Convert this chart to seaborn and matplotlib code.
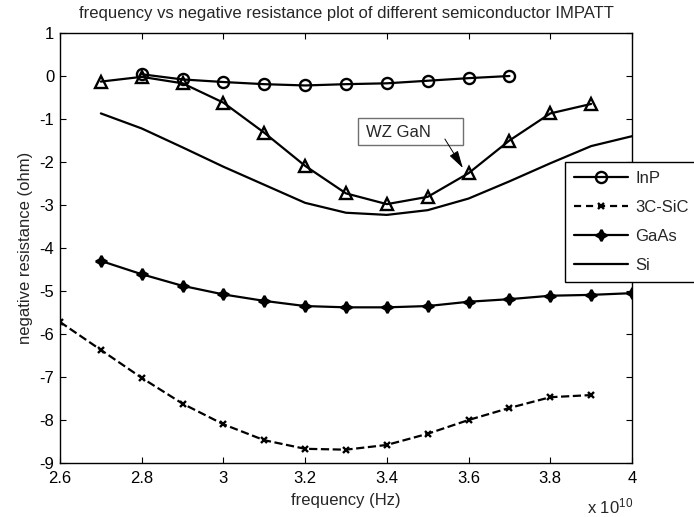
import matplotlib
matplotlib.use("Agg")
import matplotlib.pyplot as plt
from matplotlib.lines import Line2D
from matplotlib.patches import Rectangle
import seaborn as sns
import pandas as pd

# Frequencies in units of 1e10 Hz
freq_inp = [2.8, 2.9, 3.0, 3.1, 3.2, 3.3, 3.4, 3.5, 3.6, 3.7]
res_inp = [0.04, -0.08, -0.14, -0.19, -0.22, -0.19, -0.17, -0.11, -0.05, 0.0]

freq_sic = [2.6, 2.7, 2.8, 2.9, 3.0, 3.1, 3.2, 3.3, 3.4, 3.5, 3.6, 3.7, 3.8, 3.9]
res_sic = [-5.72, -6.37, -7.02, -7.62, -8.10, -8.47, -8.67, -8.69, -8.58, -8.32,
           -8.00, -7.72, -7.47, -7.42]

freq_gaas = [2.7, 2.8, 2.9, 3.0, 3.1, 3.2, 3.3, 3.4, 3.5, 3.6, 3.7, 3.8, 3.9, 4.0]
res_gaas = [-4.30, -4.61, -4.88, -5.08, -5.23, -5.35, -5.38, -5.38, -5.35, -5.25,
            -5.19, -5.11, -5.09, -5.05]

freq_si = [2.7, 2.8, 2.9, 3.0, 3.1, 3.2, 3.3, 3.4, 3.5, 3.6, 3.7, 3.8, 3.9, 4.0]
res_si = [-0.87, -1.22, -1.66, -2.11, -2.53, -2.95, -3.18, -3.23, -3.12, -2.85,
          -2.45, -2.03, -1.63, -1.40]

freq_gan = [2.7, 2.8, 2.9, 3.0, 3.1, 3.2, 3.3, 3.4, 3.5, 3.6, 3.7, 3.8, 3.9]
res_gan = [-0.13, -0.02, -0.17, -0.62, -1.32, -2.09, -2.73, -2.98, -2.81, -2.26,
           -1.50, -0.87, -0.65]

x_ticks = [2.6, 2.8, 3.0, 3.2, 3.4, 3.6, 3.8, 4.0]
x_tick_labels = ["2.6", "2.8", "3", "3.2", "3.4", "3.6", "3.8", "4"]
y_ticks = [1, 0, -1, -2, -3, -4, -5, -6, -7, -8, -9]

FS = 12

sns.set_theme(style="ticks")
plt.rcParams["font.family"] = ["Liberation Sans", "DejaVu Sans"]
plt.rcParams["axes.unicode_minus"] = False
plt.rcParams["mathtext.fontset"] = "custom"
plt.rcParams["mathtext.rm"] = "Liberation Sans"
plt.rcParams["mathtext.default"] = "regular"

fig = plt.figure(figsize=(6.94, 5.17), dpi=100)
ax = fig.add_axes([60 / 694, 1 - 463 / 517, 572 / 694, 430 / 517])

series = [
    ("InP", freq_inp, res_inp, dict(marker="o", markersize=8, mfc="none", linestyle="-")),
    ("3C-SiC", freq_sic, res_sic, dict(marker="x", markersize=4.5, linestyle="--", dashes=(3.2, 2.2))),
    ("GaAs", freq_gaas, res_gaas, dict(marker=(4, 1, 0), markersize=8, linestyle="-")),
    ("Si", freq_si, res_si, dict(marker=None, linestyle="-")),
    ("WZ GaN", freq_gan, res_gan, dict(marker="^", markersize=9, mfc="none", linestyle="-")),
]

for name, fx, fy, style in series:
    df = pd.DataFrame({"frequency": fx, "resistance": fy})
    sns.lineplot(data=df, x="frequency", y="resistance", ax=ax, color="black",
                 linewidth=1.6, markeredgewidth=1.7, markeredgecolor="black",
                 legend=False, **style)

ax.set_xlim(2.6, 4.0)
ax.set_ylim(-9, 1)
ax.set_xticks(x_ticks)
ax.set_xticklabels(x_tick_labels)
ax.set_yticks(y_ticks)
ax.set_yticklabels([str(v) for v in y_ticks])
ax.tick_params(direction="in", length=4, width=0.8, top=True, right=True,
               labelsize=FS, colors="black")
ax.tick_params(axis="x", pad=6)
ax.tick_params(axis="y", pad=4)
for sp in ax.spines.values():
    sp.set_visible(True)
    sp.set_linewidth(1.0)
    sp.set_color("black")

ax.set_xlabel("frequency (Hz)", fontsize=FS, labelpad=5)
ax.set_ylabel("negative resistance (ohm)", fontsize=FS, labelpad=5)
ax.set_title("frequency vs negative resistance plot of different semiconductor IMPATT",
             fontsize=FS, pad=11)

fig.text(587 / 694, 1 - 513 / 517, "x 10$^{10}$", fontsize=FS, ha="left", va="baseline")

# Text-arrow label for the GaN curve
ax.add_patch(Rectangle((3.329, -1.605), 0.257, 0.628, fill=True, facecolor="white",
                       edgecolor="#707070", linewidth=1.0, zorder=5))
ax.text(3.349, -1.32, "WZ GaN", fontsize=FS, ha="left", va="center", zorder=6)
ax.annotate("", xy=(3.586, -2.14), xytext=(3.542, -1.465),
            arrowprops=dict(arrowstyle="-|>,head_length=0.9,head_width=0.25",
                            color="black", lw=0.7, shrinkA=0, shrinkB=0),
            zorder=7)

handles = []
for name, fx, fy, style in series[:4]:
    st = {k: v for k, v in style.items() if k != "linestyle"}
    handles.append(Line2D([], [], color="black", linewidth=1.6, markeredgewidth=1.7,
                          markeredgecolor="black", linestyle=style["linestyle"],
                          label=name, **st))
leg = fig.legend(handles=handles, loc="upper left", bbox_to_anchor=(565 / 694, 1 - 162 / 517),
                 frameon=True, fancybox=False, edgecolor="black", framealpha=1,
                 fontsize=FS, handlelength=3.2, handletextpad=0.48, labelspacing=0.84,
                 borderpad=0.55, borderaxespad=0, markerscale=1.0)
leg.get_frame().set_linewidth(1.0)

fig.savefig("out.png", dpi=100)
